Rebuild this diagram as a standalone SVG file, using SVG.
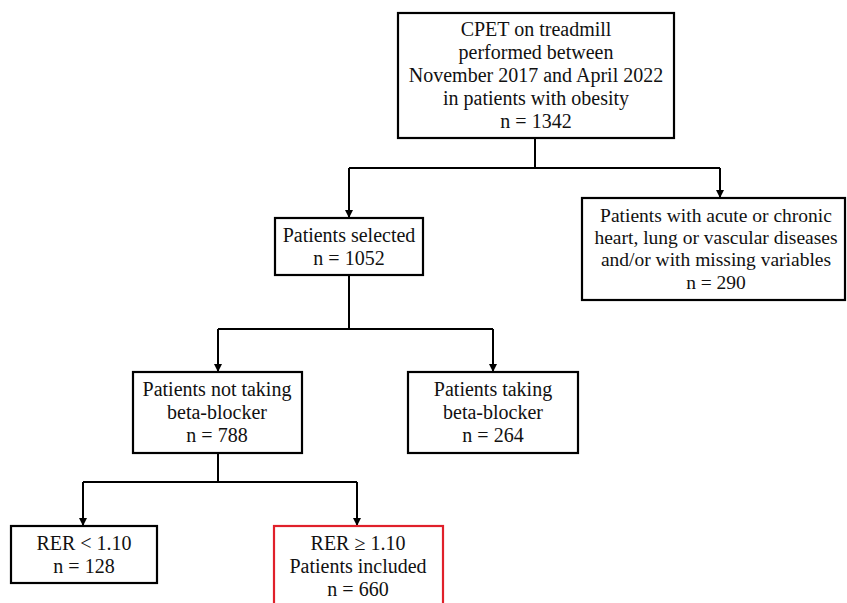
<svg xmlns="http://www.w3.org/2000/svg" width="847" height="603" viewBox="0 0 847 603">
<style>
.box{fill:#fff;stroke:#000;stroke-width:2.2}
.red{fill:#fff;stroke:#e0202a;stroke-width:2.2}
text{font-family:"Liberation Serif","Times New Roman",serif;font-size:20px;fill:#111;text-anchor:middle}
.sm{font-size:19.5px}
.ln{fill:none;stroke:#000;stroke-width:2}
</style>
<defs>
<marker id="arr" markerWidth="8" markerHeight="8" refX="7" refY="4" orient="auto" markerUnits="userSpaceOnUse">
<path d="M0,0 L8,4 L0,8 Z" fill="#000"/>
</marker>
</defs>
<rect width="847" height="603" fill="#fff"/>
<g id="connectors">
<path class="ln" d="M535,138 V168 M349,168 H720"/>
<path class="ln" d="M349,168 V217" marker-end="url(#arr)"/>
<path class="ln" d="M720,168 V197" marker-end="url(#arr)"/>
<path class="ln" d="M349,275 V329 M218,329 H493"/>
<path class="ln" d="M218,329 V371" marker-end="url(#arr)"/>
<path class="ln" d="M493,329 V371" marker-end="url(#arr)"/>
<path class="ln" d="M218,453 V482 M83,482 H357"/>
<path class="ln" d="M83,482 V525" marker-end="url(#arr)"/>
<path class="ln" d="M357,482 V525" marker-end="url(#arr)"/>
</g>
<g id="n1">
<rect class="box" x="398" y="13" width="276" height="125"/>
<text x="536" y="36">CPET on treadmill</text>
<text x="536" y="59">performed between</text>
<text x="536" y="82">November 2017 and April 2022</text>
<text x="536" y="105">in patients with obesity</text>
<text x="536" y="128">n = 1342</text>
</g>
<g id="n2">
<rect class="box" x="275" y="218" width="148" height="57"/>
<text x="349" y="242">Patients selected</text>
<text x="349" y="265">n = 1052</text>
</g>
<g id="n3">
<rect class="box" x="582" y="198" width="263" height="102"/>
<text class="sm" x="716" y="222">Patients with acute or chronic</text>
<text class="sm" x="716" y="244">heart, lung or vascular diseases</text>
<text class="sm" x="716" y="266">and/or with missing variables</text>
<text class="sm" x="716" y="289">n = 290</text>
</g>
<g id="n4">
<rect class="box" x="133" y="372" width="169" height="81"/>
<text x="217" y="396">Patients not taking</text>
<text x="217" y="419">beta-blocker</text>
<text x="217" y="442">n = 788</text>
</g>
<g id="n5">
<rect class="box" x="408" y="372" width="170" height="81"/>
<text x="493" y="396">Patients taking</text>
<text x="493" y="419">beta-blocker</text>
<text x="493" y="442">n = 264</text>
</g>
<g id="n6">
<rect class="box" x="11" y="526" width="146" height="57"/>
<text x="84" y="550">RER &lt; 1.10</text>
<text x="84" y="573">n = 128</text>
</g>
<g id="n7">
<rect class="red" x="274" y="526" width="169" height="90"/>
<text x="358" y="550">RER ≥ 1.10</text>
<text x="358" y="573">Patients included</text>
<text x="358" y="596">n = 660</text>
</g>
</svg>
